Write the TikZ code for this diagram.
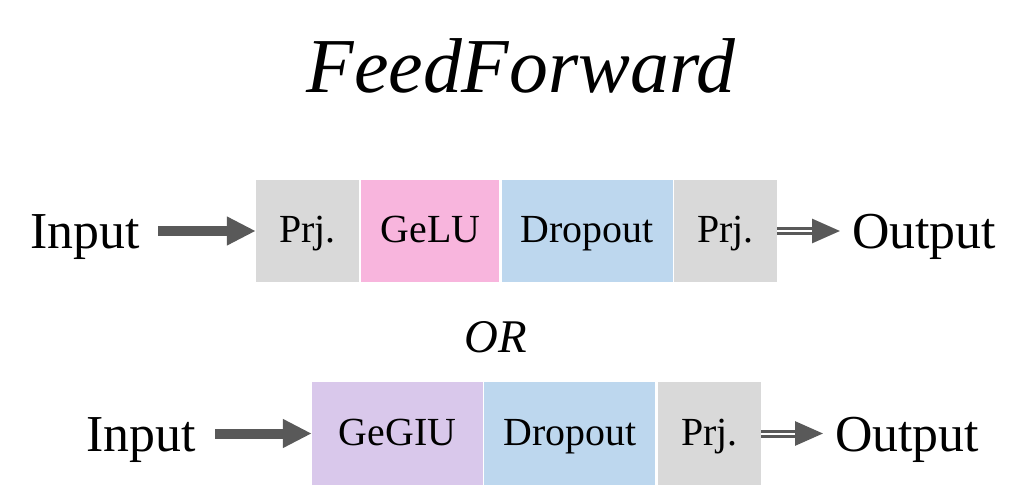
\documentclass[tikz,border=0pt]{standalone}
\usepackage{fontspec}
\setmainfont{Liberation Serif}
\usetikzlibrary{positioning,arrows.meta}
\definecolor{prjgray}{HTML}{D9D9D9}
\definecolor{gelupink}{HTML}{F8B5DD}
\definecolor{dropblue}{HTML}{BDD7EE}
\definecolor{geglupurple}{HTML}{D9C8EB}
\definecolor{arrowgray}{HTML}{595959}
\tikzset{
    blk/.style={minimum height=102bp, inner sep=0pt, text height=26bp, text depth=3bp,
        font=\fontsize{40}{40}\selectfont},
    prj/.style={blk, fill=prjgray, minimum width=103bp},
    gelu/.style={blk, fill=gelupink, minimum width=138bp},
    drop/.style={blk, fill=dropblue, minimum width=171bp},
    geglu/.style={blk, fill=geglupurple, minimum width=171bp},
    io/.style={anchor=base, inner sep=0pt, font=\fontsize{52}{52}\selectfont},
    inarrow/.style={arrowgray, line width=10bp, -{Triangle[length=29bp,width=27bp]}},
    outarrow/.style={arrowgray, line width=3bp, double=white, double distance=2bp,
        -{Triangle[length=28bp,width=24bp]}}
}
\begin{document}
\begin{tikzpicture}[x=1bp,y=-1bp]
            \useasboundingbox (0,0) rectangle (1022,488);
            % title
            \node[anchor=base, inner sep=0pt, font=\fontsize{78}{78}\selectfont\itshape] (title) at (521,93) {FeedForward};
            % first row
            \node[io] (in1) at (85,249) {Input};
            \node[prj] (prja) at (307.5,231) {Prj.};
            \node[gelu, right=2bp of prja] (gelu) {GeLU};
            \node[drop, right=2bp of gelu] (dropa) {Dropout};
            \node[prj, right=1bp of dropa] (prjb) {Prj.};
            \node[io, anchor=base west] (out1) at (852,249) {Output};
            \draw[inarrow] (158,231) coordinate (s1) -- (prja.west);
            \draw[outarrow] (prjb.east) -- ([xshift=-12bp]out1.west |- prjb.east);
            % or
            \node[anchor=base, inner sep=0pt, font=\fontsize{47}{47}\selectfont\itshape] (or) at (496,353) {OR};
            % second row
            \node[io] (in2) at (141,451) {Input};
            \node[geglu] (geglu) at (397.5,433.5) {GeGIU};
            \node[drop, right=1bp of geglu] (dropb) {Dropout};
            \node[prj, right=2bp of dropb] (prjc) {Prj.};
            \node[io, anchor=base west] (out2) at (835,451) {Output};
            \draw[inarrow] (215,433.5) coordinate (s2) -- (geglu.west);
            \draw[outarrow] (prjc.east) -- ([xshift=-12bp]out2.west |- prjc.east);
        \end{tikzpicture}
\end{document}
